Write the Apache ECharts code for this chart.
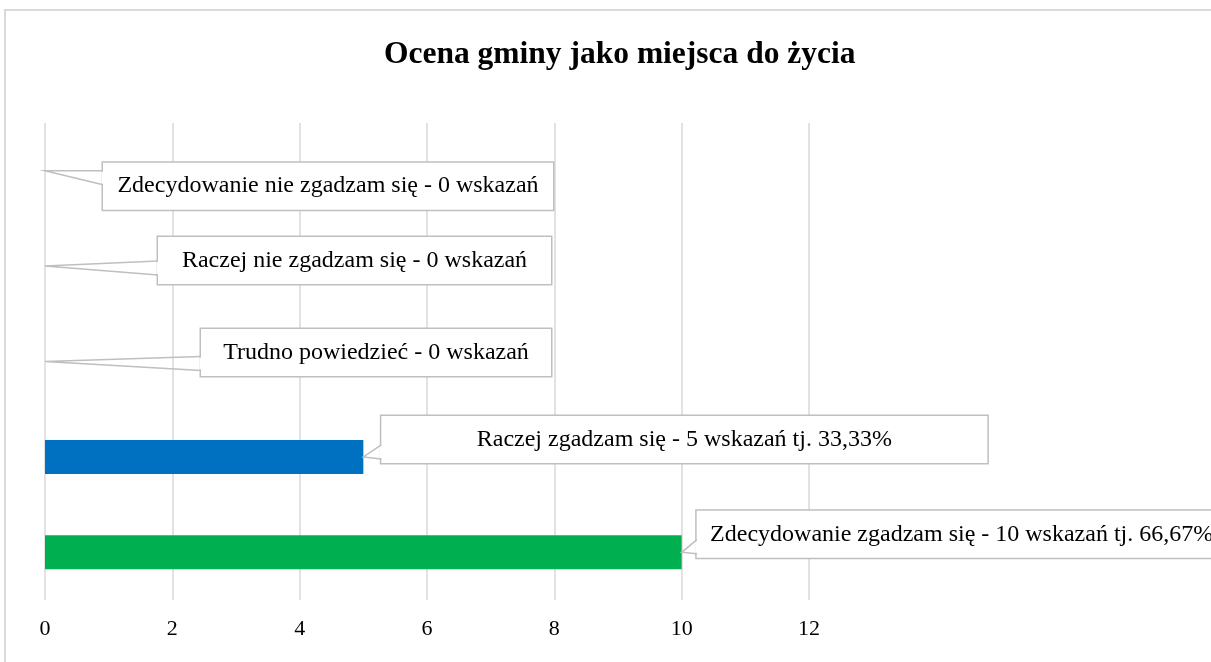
<!DOCTYPE html>
<html>
<head>
<meta charset="utf-8">
<script src="https://cdn.jsdelivr.net/npm/echarts@6/dist/echarts.min.js"></script>
<style>
    html, body { margin: 0; padding: 0; background: #fff; }
    #chart { width: 1211px; height: 662px; }
</style>
</head>
<body>
<div id="chart"></div>
<script>
// dane (od dołu wykresu do góry)
var categories = ['Zdecydowanie zgadzam się', 'Raczej zgadzam się', 'Trudno powiedzieć', 'Raczej nie zgadzam się', 'Zdecydowanie nie zgadzam się']
var counts = [10, 5, 0, 0, 0]
var shares = ['66,67%', '33,33%', '', '', '']
var xTicks = [0, 2, 4, 6, 8, 10, 12]

var barColors = ['#00B050', '#0070C0', '#00B050', '#00B050', '#00B050']

// ramki objaśnień: przesunięcie od końca słupka, szerokość ramki
var callouts = [
    {dx: 15, dy: -18, w: 530},
    {dx: 18, dy: -17.5, w: 606},
    {dx: 156, dy: -9, w: 350},
    {dx: 113, dy: -5.5, w: 393},
    {dx: 58, dy: 15.5, w: 450}
]
var boxH = 47

var serif = "'Liberation Serif', 'Times New Roman', serif"
var lineGray = '#bfbfbf'

var labelText = function (i) {
    var txt = categories[i] + ' - ' + counts[i] + ' wskazań'
    if (shares[i]) {
        txt += ' tj. ' + shares[i]
    }
    return txt
}

var chart = echarts.init(document.getElementById('chart'))

var barData = []
var wedgeData = []
for (var i = 0; i < counts.length; i++) {
    barData.push({
        value: counts[i],
        itemStyle: {color: barColors[i]},
        label: {width: callouts[i].w - 12}
    })
    wedgeData.push([counts[i], i])
}

// "dzióbek" objaśnienia - od końca słupka do lewej krawędzi ramki
var renderWedge = function (params, api) {
    var idx = params.dataIndex
    var p = api.coord([api.value(0), api.value(1)])
    var c = callouts[idx]
    var left = p[0] + c.dx
    var cy = p[1] + c.dy
    var top = cy - boxH / 2
    var bottom = cy + boxH / 2
    var b0 = Math.min(Math.max(p[1] - 5, top + 8), bottom - 18)
    var b1 = b0 + 14
    return {
        type: 'group',
        children: [{
            type: 'line',
            shape: {x1: left, y1: b0 + 1, x2: left, y2: b1 - 1},
            style: {stroke: '#fff', lineWidth: 3}
        }, {
            type: 'polyline',
            shape: {points: [[left, b0], [p[0], p[1]], [left, b1]]},
            style: {stroke: lineGray, lineWidth: 1.5, fill: null}
        }]
    }
}

var option = {
    animation: false,
    title: {
        text: 'Ocena gminy jako miejsca do życia',
        left: 379,
        top: 34,
        textStyle: {
            fontFamily: serif,
            fontWeight: 'bold',
            fontSize: 31.5,
            color: '#000'
        }
    },
    graphic: [{
        type: 'rect',
        silent: true,
        z: -10,
        shape: {x: 5, y: 10, width: 1300, height: 700},
        style: {fill: 'none', stroke: '#d9d9d9', lineWidth: 2}
    }],
    grid: {
        left: 45,
        right: 402,
        top: 123,
        bottom: 62
    },
    xAxis: {
        type: 'value',
        min: xTicks[0],
        max: xTicks[xTicks.length - 1],
        interval: xTicks[1] - xTicks[0],
        axisLine: {show: false},
        axisTick: {show: false},
        splitLine: {lineStyle: {color: '#d9d9d9', width: 1.5}},
        axisLabel: {
            color: '#000',
            fontFamily: serif,
            fontSize: 22,
            margin: 18
        }
    },
    yAxis: {
        type: 'category',
        data: categories,
        axisLine: {show: false},
        axisTick: {show: false},
        axisLabel: {show: false},
        splitLine: {show: false}
    },
    series: [{
        type: 'bar',
        barWidth: 34,
        data: barData,
        label: {
            show: true,
            position: 'right',
            formatter: function (p) { return labelText(p.dataIndex) },
            fontFamily: serif,
            fontSize: 24,
            lineHeight: 27,
            color: '#000',
            align: 'center',
            verticalAlign: 'middle',
            overflow: 'none',
            backgroundColor: '#fff',
            borderColor: lineGray,
            borderWidth: 1.5,
            padding: [10, 6]
        },
        labelLayout: function (params) {
            var c = callouts[params.dataIndex]
            var r = params.rect
            var tx = r.x + r.width
            var ty = r.y + r.height / 2
            return {
                x: tx + c.dx + c.w / 2,
                y: ty + c.dy,
                align: 'center',
                verticalAlign: 'middle'
            }
        }
    }, {
        type: 'custom',
        z: 5,
        silent: true,
        encode: {x: 0, y: 1},
        data: wedgeData,
        renderItem: renderWedge
    }]
}

chart.setOption(option)
window.addEventListener('resize', function () {
    chart.resize()
})
</script>
</body>
</html>
